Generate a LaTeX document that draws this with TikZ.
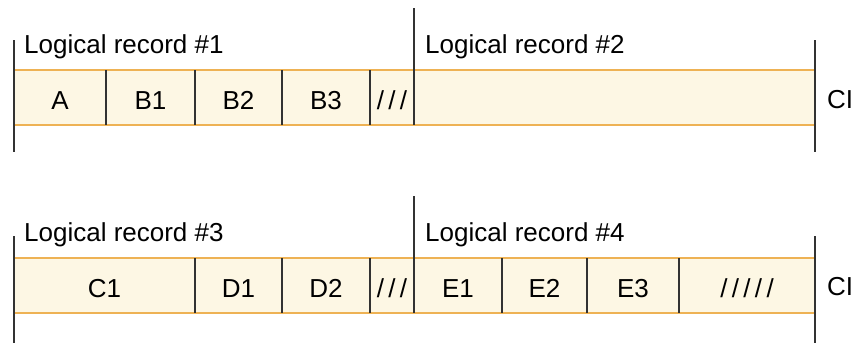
\documentclass[tikz,border=0pt]{standalone}
\usepackage{fontspec}
\setmainfont{Liberation Sans}
\usetikzlibrary{positioning}

\definecolor{bandfill}{RGB}{253,247,228}
\definecolor{bandedge}{RGB}{238,178,84}
\definecolor{sepgray}{RGB}{50,50,50}

\begin{document}
\begin{tikzpicture}[x=1pt, y=-1pt,
  cell/.style={fill=bandfill, minimum height=55pt, inner sep=0pt, outer sep=0pt,
               text height=23pt, text depth=0pt,
               font=\fontsize{26}{30}\selectfont},
  lbl/.style={inner sep=0pt, anchor=base west, font=\fontsize{26}{30}\selectfont},
  edge/.style={draw=bandedge, line width=1.6pt},
  sep/.style={draw=sepgray, line width=1.2pt},
]
\useasboundingbox (0,0) rectangle (854,343);

% --- Row 1: logical records #1 and #2 ---
\node[cell, minimum width=92pt, anchor=north west] (a) at (14,70) {A};
\node[cell, minimum width=89pt, right=0pt of a] (b1) {B1};
\node[cell, minimum width=87pt, right=0pt of b1] (b2) {B2};
\node[cell, minimum width=88pt, right=0pt of b2] (b3) {B3};
\node[cell, minimum width=44pt, right=0pt of b3] (pad1) {/\,/\,/};
\node[cell, minimum width=401pt, right=0pt of pad1] (rec2) {};

\draw[edge] (a.north west) -- (rec2.north east);
\draw[edge] (a.south west) -- (rec2.south east);
\foreach \c in {a,b1,b2,b3}
  \draw[sep] (\c.north east) -- (\c.south east);

\coordinate (l1top) at (14,40);
\coordinate (l1bot) at (14,152);
\coordinate (m1top) at (414,8);
\coordinate (r1top) at (815,40);
\coordinate (r1bot) at (815,152);
\draw[sep] (l1top) -- (l1bot);
\draw[sep] (m1top) -- (pad1.south east);
\draw[sep] (r1top) -- (r1bot);

\node[lbl] (lr1) at (24,53) {Logical record \#1};
\node[lbl] (lr2) at (425,53) {Logical record \#2};
\node[lbl] (ci1) at (827,108) {CI};

% --- Row 2: logical records #3 and #4 ---
\node[cell, minimum width=181pt, anchor=north west] (c1) at (14,258) {C1};
\node[cell, minimum width=87pt, right=0pt of c1] (d1) {D1};
\node[cell, minimum width=88pt, right=0pt of d1] (d2) {D2};
\node[cell, minimum width=44pt, right=0pt of d2] (pad2) {/\,/\,/};
\node[cell, minimum width=88pt, right=0pt of pad2] (e1) {E1};
\node[cell, minimum width=85pt, right=0pt of e1] (e2) {E2};
\node[cell, minimum width=92pt, right=0pt of e2] (e3) {E3};
\node[cell, minimum width=136pt, right=0pt of e3] (pad3) {/\,/\,/\,/\,/};

\draw[edge] (c1.north west) -- (pad3.north east);
\draw[edge] (c1.south west) -- (pad3.south east);
\foreach \c in {c1,d1,d2,e1,e2,e3}
  \draw[sep] (\c.north east) -- (\c.south east);

\coordinate (l2top) at (14,236);
\coordinate (l2bot) at (14,343);
\coordinate (m2top) at (414,196);
\coordinate (r2top) at (815,236);
\coordinate (r2bot) at (815,343);
\draw[sep] (l2top) -- (l2bot);
\draw[sep] (m2top) -- (pad2.south east);
\draw[sep] (r2top) -- (r2bot);

\node[lbl] (lr3) at (24,241) {Logical record \#3};
\node[lbl] (lr4) at (425,241) {Logical record \#4};
\node[lbl] (ci2) at (827,295) {CI};

\end{tikzpicture}
\end{document}
